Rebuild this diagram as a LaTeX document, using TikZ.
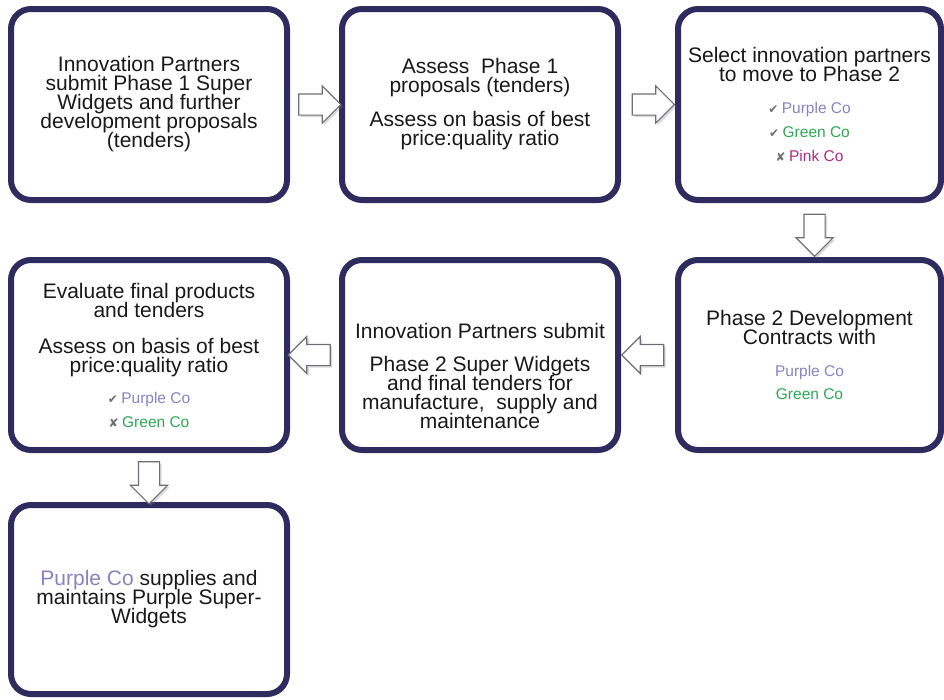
\documentclass[tikz,border=0pt]{standalone}
\usepackage{fontspec}
\setmainfont{Liberation Sans}
\newfontfamily\symbolfont{DejaVu Sans}
\usepackage{xcolor}
\definecolor{BoxEdge}{HTML}{2E2B5F}
\definecolor{PurpleCo}{HTML}{8783C0}
\definecolor{GreenCo}{HTML}{2EA857}
\definecolor{PinkCo}{HTML}{B02C7E}
\definecolor{TickGrey}{HTML}{707070}
\definecolor{ArrowEdge}{HTML}{6E6E78}
\usetikzlibrary{shapes.arrows,shadows,calc}

\newcommand{\stagefont}{\fontsize{21}{19}\selectfont\lineskiplimit=-30pt\relax}
\newcommand{\tickmark}{{\color{TickGrey}\symbolfont\fontsize{12}{12}\selectfont ✔}}
\newcommand{\crossmark}{{\color{TickGrey}\symbolfont\fontsize{12}{12}\selectfont ✘}}
\newcommand{\coname}[2]{{\color{#1}\fontsize{15.5}{19}\selectfont #2}}

\begin{document}
\begin{tikzpicture}[x=1pt, y=-1pt,
  stagebox/.style={draw=BoxEdge, line width=6pt, rounded corners=20pt, fill=white,
    minimum width=276pt, minimum height=190pt, align=center, inner sep=0pt,
    text=black!90, font=\stagefont,
    drop shadow={shadow xshift=1pt, shadow yshift=-2pt, opacity=.15}},
  blockarrow/.style={single arrow, draw=ArrowEdge, fill=white, line width=1.1pt,
    minimum height=42pt, inner sep=10pt, single arrow head extend=8pt,
    drop shadow={shadow xshift=2pt, shadow yshift=-2pt, opacity=.3}}]
  \useasboundingbox (0,0) rectangle (944,699);

  % top row
  \node[stagebox, minimum height=191pt] (submit) at (149,104.5) {Innovation Partners\\submit Phase 1 Super\\Widgets and further\\development proposals\\(tenders)};
  \node[stagebox, minimum height=191pt] (assess) at (480,104.5) {Assess\ \ Phase 1\\proposals (tenders)\\[15pt]Assess on basis of best\\price:quality ratio};
  \node[stagebox, minimum height=191pt, minimum width=263pt] (select) at (809.5,104.5) {Select innovation partners\\to move to Phase 2\\[13pt]\tickmark\,\coname{PurpleCo}{Purple Co}\\[5pt]\tickmark\,\coname{GreenCo}{Green Co}\\[5pt]\crossmark\,\coname{PinkCo}{Pink Co}};

  % middle row
  \node[stagebox, minimum width=263pt] (contract) at (809.5,355) {Phase 2 Development\\Contracts with\\[13pt]\coname{PurpleCo}{Purple Co}\\[4pt]\coname{GreenCo}{Green Co}};
  \node[stagebox] (final) at (480,355) {\rule{0pt}{57pt}Innovation Partners submit\\[14pt]Phase 2 Super Widgets\\and final tenders for\\manufacture,\ \ supply and\\maintenance};
  \node[stagebox] (evaluate) at (149,355) {Evaluate final products\\and tenders\\[17pt]Assess on basis of best\\price:quality ratio\\[12pt]\tickmark\,\coname{PurpleCo}{Purple Co}\\[5pt]\crossmark\,\coname{GreenCo}{Green Co}};

  % bottom row
  \node[stagebox, minimum height=189pt] (supply) at (149,599.5) {{\color{PurpleCo}Purple Co} supplies and\\maintains Purple Super-\\Widgets};

  % block arrows between stages
  \node[blockarrow] (a1) at ($(submit.east)!.5!(assess.west)$) {};
  \node[blockarrow] (a2) at ($(assess.east)!.5!(select.west)$) {};
  \node[blockarrow, shape border rotate=270, xshift=5pt] (a3) at ($(select.south)!.5!(contract.north)$) {};
  \node[blockarrow, shape border rotate=180] (a4) at ($(contract.west)!.5!(final.east)$) {};
  \node[blockarrow, shape border rotate=180] (a5) at ($(final.west)!.5!(evaluate.east)$) {};
  \node[blockarrow, shape border rotate=270] (a6) at ($(evaluate.south)!.5!(supply.north)$) {};
\end{tikzpicture}
\end{document}
